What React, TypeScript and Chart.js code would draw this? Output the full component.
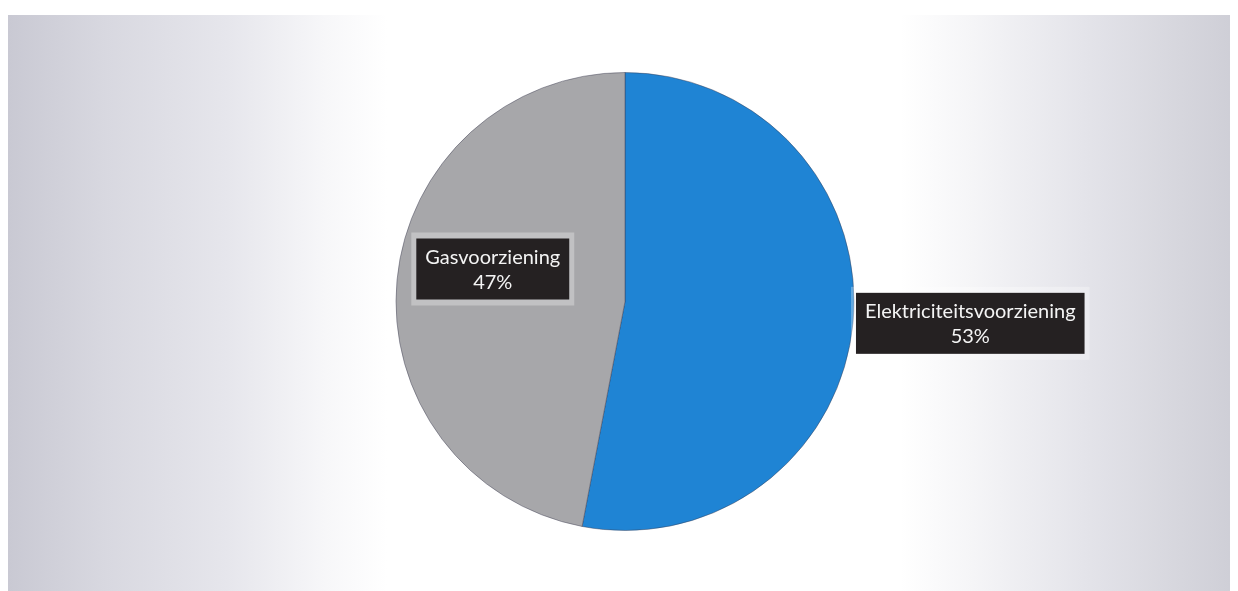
import React, { useEffect, useRef } from "react";
import { Chart, registerables } from "chart.js";

Chart.register(...registerables);

const categories = ["Elektriciteitsvoorziening", "Gasvoorziening"];
const shares = [53, 47];
const percentLabels = ["53%", "47%"];
const sliceColors = ["#1f84d4", "#a7a7aa"];
const labelPlacement = ["outside", "inside"];

const labelPlugin = {
  id: "boxLabels",
  afterDatasetsDraw(chart: any) {
    const ctx = chart.ctx;
    const meta = chart.getDatasetMeta(0);
    ctx.save();
    ctx.font = "20px Lato";
    ctx.textAlign = "center";
    ctx.textBaseline = "middle";
    meta.data.forEach((arc: any, i: number) => {
      const { x, y, startAngle, endAngle, outerRadius } = arc.getProps(
        ["x", "y", "startAngle", "endAngle", "outerRadius"],
        true
      );
      const mid = (startAngle + endAngle) / 2;
      const lines = [categories[i], percentLabels[i]];
      const tw = Math.max(...lines.map((l) => ctx.measureText(l).width));
      const padX = 9;
      const lineH = 25;
      const boxW = tw + padX * 2;
      const boxH = lineH * 2 + 11;
      let cx: number, cy: number;
      if (labelPlacement[i] === "outside") {
        const px = x + Math.cos(mid) * (outerRadius + 3);
        const py = y + Math.sin(mid) * (outerRadius + 3);
        cx = px + boxW / 2;
        cy = py;
      } else {
        cx = x + Math.cos(mid) * outerRadius * 0.58;
        cy = y + Math.sin(mid) * outerRadius * 0.58 - 20;
      }
      const bx = cx - boxW / 2;
      const by = cy - boxH / 2;
      ctx.fillStyle = "rgba(255,255,255,0.3)";
      ctx.fillRect(bx - 5, by - 6, boxW + 10, boxH + 12);
      ctx.fillStyle = "#252122";
      ctx.fillRect(bx, by, boxW, boxH);
      ctx.fillStyle = "#f4f4f4";
      ctx.fillText(lines[0], cx, cy - lineH / 2 + 1);
      ctx.fillText(lines[1], cx, cy + lineH / 2 + 1);
    });
    ctx.restore();
  },
};

export default function App() {
  const ref = useRef<HTMLCanvasElement>(null);
  useEffect(() => {
    if (!ref.current) return;
    const chart = new Chart(ref.current, {
      type: "pie",
      data: {
        labels: categories,
        datasets: [
          {
            data: shares,
            backgroundColor: sliceColors,
            borderColor: "rgba(60,60,80,0.45)",
            borderWidth: 1,
          },
        ],
      },
      options: {
        responsive: false,
        animation: false,
        devicePixelRatio: 1,
        layout: { padding: { top: 72, bottom: 60, left: 12, right: 0 } },
        plugins: {
          legend: { display: false },
          tooltip: { enabled: false },
          title: { display: false },
        },
      },
      plugins: [labelPlugin],
    });
    return () => chart.destroy();
  }, []);
  return (
    <div
      style={{
        position: "fixed",
        left: 0,
        top: 0,
        width: 1238,
        height: 591,
        background: "#ffffff",
        overflow: "hidden",
      }}
    >
      <div
        style={{
          position: "absolute",
          left: 8,
          top: 15,
          width: 1222,
          height: 576,
          background:
            "linear-gradient(to right, #c9c9d3 0%, #d8d8e0 8%, #e6e6ec 18%, #f7f7f9 26%, #ffffff 31%, #ffffff 73%, #f5f5f7 79%, #e4e4ea 88%, #d6d6dd 96%, #cfcfd7 100%)",
        }}
      />
      <canvas
        ref={ref}
        width={1238}
        height={591}
        style={{ position: "absolute", left: 0, top: 0 }}
      />
    </div>
  );
}
